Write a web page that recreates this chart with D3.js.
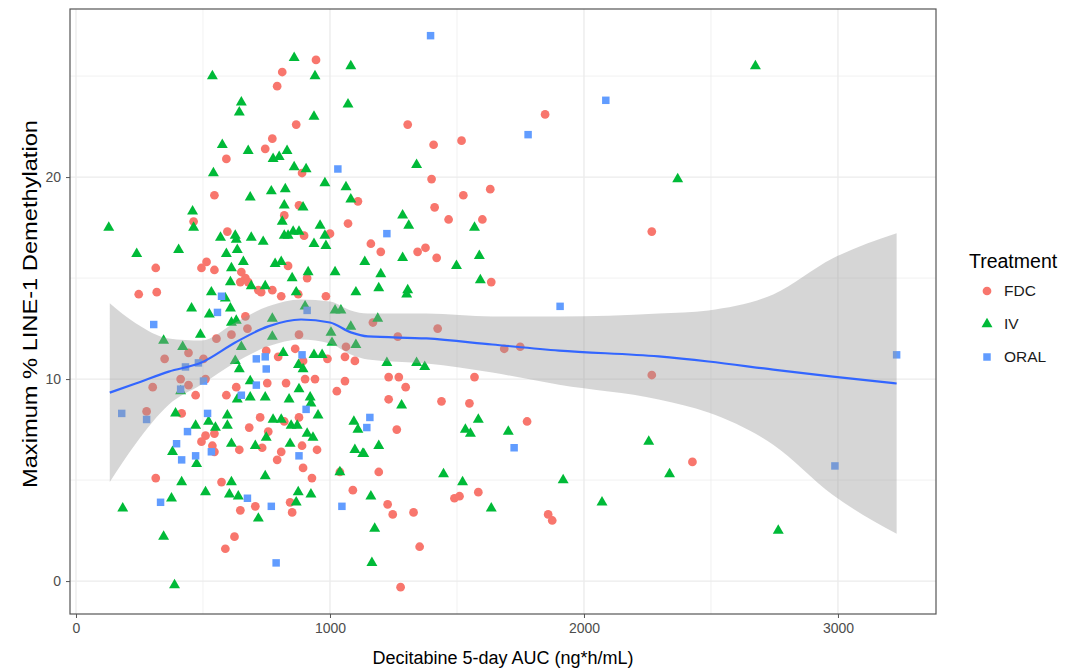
<!DOCTYPE html>
<html>
<head>
<meta charset="utf-8">
<title>LINE-1 demethylation vs AUC</title>
<script src="https://d3js.org/d3.v7.min.js"></script>
<style>
body { margin: 0; background: #fff; }
svg { display: block; font-family: "Liberation Sans", Arial, sans-serif; }
.grid line { stroke: #ebebeb; }
.tick-label { fill: #4d4d4d; font-size: 14px; }
.axis-title { fill: #000; font-size: 18px; }
</style>
</head>
<body>
<svg id="chart" width="1069" height="671"></svg>
<script>
// values: [AUC, max % demethylation]
var fdc = [
  [945,25.8],[812,25.2],[792,24.5],[867,22.6],[773,21.9],[745,21.4],[592,20.9],[890,20.2],
  [545,19.1],[878,18.6],[1110,18.8],[1071,17.7],[820,18.1],[463,17.8],[596,17.3],[898,17.1],
  [1000,17.2],[314,15.5],[494,15.5],[514,15.8],[545,15.4],[651,15.3],[667,15.0],[647,14.8],
  [678,14.8],[835,15.6],[910,15.0],[247,14.2],[318,14.3],[729,14.3],[773,14.4],[808,14.1],
  [875,14.2],[984,14.1],[718,14.4],
  [1847,23.1],[1306,22.6],[1408,21.6],[1518,21.8],[1400,19.9],[1631,19.4],[1525,19.1],[1412,18.5],
  [1467,17.9],[1600,17.9],[1161,16.7],[1200,16.3],[1345,16.3],[1376,16.5],[1420,16.0],[1635,14.8],
  [2267,17.3],[2267,10.2],[2427,5.9],
  [1169,12.8],[1424,12.5],[1267,12.1],[1686,11.5],[1749,11.6],[1231,10.1],[1271,10.1],[1298,9.6],
  [1569,10.1],[1231,9.0],[1439,8.9],[1549,8.8],[1776,7.9],[1263,7.5],[1192,5.4],[1227,3.8],
  [1247,3.3],[1329,3.4],[1490,4.1],[1510,4.2],[1584,4.4],[1859,3.3],[1875,3.0],[1353,1.7],[1278,-0.3],
  [349,11.0],[443,11.3],[502,11.0],[553,12.0],[612,12.2],[667,13.1],[675,12.5],[749,11.4],
  [796,11.1],[878,12.2],[863,11.5],[894,10.9],[510,10.0],[412,10.0],[443,9.7],[471,9.2],
  [302,9.6],[278,8.4],[416,8.3],[592,9.2],[631,9.6],[753,9.8],[827,9.8],[902,10.0],
  [941,10.0],[725,8.1],[682,7.6],[757,7.4],[878,8.1],[510,7.2],[494,6.9],[545,7.3],
  [537,6.7],[545,6.4],[643,6.5],[808,6.4],[792,6.0],[890,6.7],[949,6.5],[894,5.6],
  [929,5.1],[314,5.1],[573,4.9],[647,3.5],[706,3.7],[843,3.9],[851,3.4],[624,2.2],
  [588,1.6],[1090,4.5],[1039,5.4],[1059,11.1],[1098,10.9],[1063,11.6],[990,11.0],[1059,9.9],
  [1027,9.4],[820,7.9],[733,6.6]
];

var iv = [
  [129,17.5],[239,16.2],[404,16.4],[459,18.3],[463,17.5],[537,25.0],[651,23.7],[643,23.2],
  [576,21.6],[541,20.2],[678,21.3],[776,20.9],[800,21.0],[831,21.3],[859,25.9],[941,25.0],
  [937,23.0],[859,20.5],[906,20.4],[1082,25.5],[1071,23.6],[980,19.7],[1063,19.5],[1082,18.9],
  [686,19.0],[769,19.3],[824,19.4],[820,18.6],[894,18.5],[812,17.8],[569,17.0],[627,17.1],
  [631,16.9],[690,17.0],[737,16.8],[820,17.1],[835,17.1],[855,17.3],[878,17.3],[961,17.6],
  [980,17.1],[937,16.7],[984,16.6],[592,16.2],[635,16.4],[659,15.8],[612,15.5],[784,15.7],
  [808,15.8],[914,15.3],[851,15.0],[1020,15.3],[1137,15.8],[608,14.8],[690,14.6],[745,14.6],
  [533,14.3],[1102,14.3],[867,14.3],[588,14.0],
  [1341,20.6],[1286,18.1],[1310,17.6],[1569,17.5],[1588,16.1],[1498,15.6],[1286,16.0],[1200,15.2],
  [1592,14.9],[1192,14.5],[1306,14.4],[1302,14.2],
  [2675,25.5],[2369,19.9],[2337,5.3],[2765,2.5],[2255,6.9],
  [1188,13.0],[1224,10.8],[1341,10.8],[1373,10.6],[1282,8.7],[1584,8.0],[1533,7.5],[1553,7.3],
  [1702,7.4],[1192,6.7],[1133,6.3],[1447,5.3],[1522,4.9],[1918,5.0],[2071,3.9],[1635,3.6],
  [1161,4.2],[1176,2.6],[1165,0.9],
  [455,13.5],[525,13.2],[608,13.5],[612,12.8],[631,12.9],[345,11.9],[420,11.6],[490,12.2],
  [651,11.6],[627,10.9],[643,10.5],[686,9.9],[773,12.1],[816,11.3],[773,13.0],[902,13.6],
  [937,11.2],[969,11.2],[1004,12.3],[1008,11.8],[1020,13.4],[1043,13.4],[1082,12.6],[1102,11.7],
  [412,9.4],[686,9.1],[635,9.0],[745,9.1],[839,9.0],[878,9.5],[922,9.1],[925,8.8],
  [953,8.2],[392,8.3],[471,7.7],[522,7.9],[549,7.6],[596,8.2],[596,7.7],[776,8.0],
  [808,8.0],[847,7.7],[871,7.7],[910,7.3],[933,7.1],[843,6.8],[749,7.1],[706,6.7],
  [612,6.8],[380,6.4],[475,5.8],[416,4.9],[376,4.1],[510,4.4],[612,4.9],[604,4.3],
  [639,4.2],[745,5.2],[875,4.4],[925,4.3],[867,3.9],[1039,5.4],[1094,7.9],[1110,7.5],
  [1098,6.5],[1129,6.3],[184,3.6],[345,2.2],[718,3.1],[388,-0.2],[876,10.7],[894,10.5]
];

var oral = [
  [1031,20.4],[573,14.1],[1396,27.0],[2086,23.8],[1780,22.1],[1224,17.2],[1906,13.6],[1157,8.1],
  [1145,7.6],[1725,6.6],[3231,11.2],[2988,5.7],[306,12.7],[557,13.3],[180,8.3],[278,8.0],
  [412,9.5],[431,10.6],[482,10.8],[502,9.9],[439,7.4],[396,6.8],[416,6.0],[471,6.2],
  [533,6.4],[518,8.3],[710,11.0],[745,11.1],[749,10.5],[710,9.7],[651,9.2],[890,11.2],
  [910,13.4],[906,8.5],[878,6.2],[675,4.1],[769,3.7],[333,3.9],[788,0.9],[1047,3.7]
];

// loess fit and 95% band, read at these AUC values
var smoothX   = [133, 235, 365, 494, 627, 757, 886, 1000, 1082, 1149, 1380, 1639, 1902, 2294, 2490, 2745, 2980, 3231];
var smoothFit = [9.33, 9.78, 10.37, 10.82, 11.81, 12.61, 12.95, 12.80, 12.31, 12.11, 12.01, 11.71, 11.41, 11.12, 10.87, 10.47, 10.12, 9.78];
var smoothLo  = [4.91, 6.80, 8.73, 9.73, 10.82, 11.62, 11.96, 11.76, 11.22, 10.97, 10.77, 10.32, 9.72, 8.99, 8.34, 6.75, 4.26, 2.34];
var smoothHi  = [13.75, 12.76, 12.01, 11.91, 12.80, 13.60, 13.94, 13.84, 13.40, 13.25, 13.25, 13.10, 13.10, 13.25, 13.40, 14.19, 15.98, 17.22];

var xTicks = [0, 1000, 2000, 3000],
    xMinor = [500, 1500, 2500],
    yTicks = [0, 10, 20],
    yMinor = [5, 15, 25];

var groups = ["FDC", "IV", "ORAL"];
var colors = {FDC: "#F8766D", IV: "#00BA38", ORAL: "#619CFF"};

var svg = d3.select("#chart"),
    panel = {left: 70, right: 936, top: 9, bottom: 614};

var x = d3.scaleLinear().domain([-23.6, 3386]).range([panel.left, panel.right]);
var y = d3.scaleLinear().domain([-1.63, 28.32]).range([panel.bottom, panel.top]);

// grid
var grid = svg.append("g").attr("class", "grid");
grid.selectAll(".vminor").data(xMinor).enter().append("line")
    .attr("x1", d => x(d)).attr("x2", d => x(d))
    .attr("y1", panel.top).attr("y2", panel.bottom).attr("stroke-width", 0.7);
grid.selectAll(".hminor").data(yMinor).enter().append("line")
    .attr("y1", d => y(d)).attr("y2", d => y(d))
    .attr("x1", panel.left).attr("x2", panel.right).attr("stroke-width", 0.7);
grid.selectAll(".vmajor").data(xTicks).enter().append("line")
    .attr("x1", d => x(d)).attr("x2", d => x(d))
    .attr("y1", panel.top).attr("y2", panel.bottom).attr("stroke-width", 1.3);
grid.selectAll(".hmajor").data(yTicks).enter().append("line")
    .attr("y1", d => y(d)).attr("y2", d => y(d))
    .attr("x1", panel.left).attr("x2", panel.right).attr("stroke-width", 1.3);

// points
var sym = {
  FDC: d3.symbol().type(d3.symbolCircle).size(60),
  IV: d3.symbol().type(d3.symbolTriangle).size(52),
  ORAL: d3.symbol().type(d3.symbolSquare).size(56)
};
var series = [["FDC", fdc], ["IV", iv], ["ORAL", oral]];
series.forEach(function(s) {
  svg.append("g").selectAll("path").data(s[1]).enter().append("path")
      .attr("d", sym[s[0]]())
      .attr("transform", d => "translate(" + x(d[0]) + "," + y(d[1]) + ")")
      .attr("fill", colors[s[0]]);
});

// smooth
var band = smoothX.map((v, i) => ({x: v, fit: smoothFit[i], lo: smoothLo[i], hi: smoothHi[i]}));
svg.append("path").datum(band)
    .attr("fill", "#999999").attr("fill-opacity", 0.4)
    .attr("d", d3.area().curve(d3.curveMonotoneX)
        .x(d => x(d.x)).y0(d => y(d.lo)).y1(d => y(d.hi)));
svg.append("path").datum(band)
    .attr("fill", "none").attr("stroke", "#3366FF").attr("stroke-width", 2.2)
    .attr("d", d3.line().curve(d3.curveMonotoneX).x(d => x(d.x)).y(d => y(d.fit)));

// panel border
svg.append("rect")
    .attr("x", panel.left).attr("y", panel.top)
    .attr("width", panel.right - panel.left).attr("height", panel.bottom - panel.top)
    .attr("fill", "none").attr("stroke", "#555").attr("stroke-width", 1.2);

// axes
var xAxis = svg.append("g").attr("transform", "translate(0," + panel.bottom + ")")
    .call(d3.axisBottom(x).tickValues(xTicks).tickFormat(d3.format("d")).tickSize(4).tickPadding(5));
var yAxis = svg.append("g").attr("transform", "translate(" + panel.left + ",0)")
    .call(d3.axisLeft(y).tickValues(yTicks).tickFormat(d3.format("d")).tickSize(4).tickPadding(5));
[xAxis, yAxis].forEach(function(a) {
  a.select(".domain").remove();
  a.selectAll(".tick line").attr("stroke", "#555");
  a.selectAll(".tick text").attr("class", "tick-label")
      .style("font-family", "Liberation Sans, Arial, sans-serif");
});

svg.append("text").attr("class", "axis-title")
    .attr("x", (panel.left + panel.right) / 2).attr("y", 664)
    .attr("text-anchor", "middle")
    .text("Decitabine 5-day AUC (ng*h/mL)");
svg.append("text").attr("class", "axis-title")
    .attr("transform", "translate(37,304) rotate(-90)")
    .attr("text-anchor", "middle")
    .style("font-size", "20px")
    .attr("textLength", 368).attr("lengthAdjust", "spacingAndGlyphs")
    .text("Maximum % LINE-1 Demethylation");

// legend
var legend = svg.append("g").attr("transform", "translate(969,0)");
legend.append("text").attr("x", 0).attr("y", 268)
    .attr("font-size", 19.5).text("Treatment");
groups.forEach(function(g, i) {
  var cy = 291 + i * 33;
  legend.append("path").attr("d", sym[g]())
      .attr("transform", "translate(18," + cy + ")")
      .attr("fill", colors[g]);
  legend.append("text").attr("x", 35).attr("y", cy)
      .attr("dy", "0.35em").attr("font-size", 15.5).attr("fill", "#1a1a1a")
      .text(g);
});
</script>
</body>
</html>
